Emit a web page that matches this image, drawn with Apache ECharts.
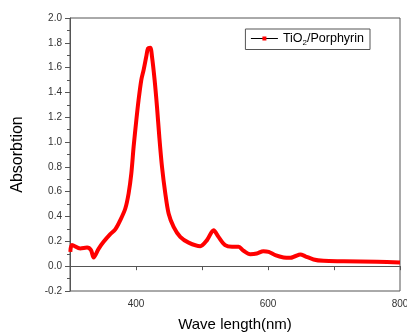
<!DOCTYPE html>
<html><head><meta charset="utf-8">
<script src="https://cdn.jsdelivr.net/npm/echarts@6/dist/echarts.min.js"></script>
<style>html,body{margin:0;padding:0;background:#fff}#c{width:407px;height:333px}</style>
</head><body><div id="c"></div>
<script>
const wavelength = [300.5,303,315.6,325.8,331.8,335.8,343.3,350.9,361,368.6,376.2,383.8,388.8,392.9,396.4,400.5,403.9,408,411.5,415.6,418.2,421.7,424.2,428.2,431.8,435.3,439.4,444.4,449.4,457,467,479.7,497.4,507.6,517.6,525,535,545.5,555.5,563,573,583,593,601,611,623.6,633.8,641,649,656.5,669,684,714.5,765,800];
const absorption = [0.115,0.17,0.143,0.15,0.13,0.07,0.14,0.196,0.258,0.296,0.371,0.465,0.586,0.747,0.962,1.177,1.339,1.5,1.58,1.69,1.755,1.76,1.69,1.5,1.285,1.043,0.80,0.586,0.425,0.317,0.236,0.19,0.161,0.21,0.29,0.236,0.17,0.156,0.156,0.124,0.097,0.102,0.121,0.115,0.089,0.07,0.067,0.08,0.094,0.08,0.054,0.043,0.04,0.035,0.03];
const seriesName = 'TiO2/Porphyrin';
const xTitle = 'Wave length(nm)';
const yTitle = 'Absorbtion';

const chart = echarts.init(document.getElementById('c'));
chart.setOption({
  animation: false,
  textStyle: {fontFamily: 'Liberation Sans, Arial, sans-serif'},
  grid: {left: 70, right: 7, top: 18, bottom: 42, show: true, borderColor: '#555', borderWidth: 1, containLabel: false, outerBoundsMode: 'none'},
  legend: {
    right: 37, top: 29, orient: 'vertical',
    borderColor: '#555', borderWidth: 1, padding: [3, 6, 3, 5],
    itemWidth: 27, itemHeight: 5, itemGap: 0,
    lineStyle: {color: '#000', width: 1},
    itemStyle: {color: '#ff0000'},
    formatter: () => '{a|TiO}{s|2}{a|/Porphyrin}',
    textStyle: {rich: {a: {fontSize: 12.5, color: '#000'}, s: {fontSize: 8, color: '#000', verticalAlign: 'bottom', padding: [8, 0, 0, 0]}}}
  },
  xAxis: {
    type: 'value', min: 300, max: 800, interval: 100,
    name: xTitle, nameLocation: 'middle', nameGap: 26,
    nameTextStyle: {fontSize: 15, color: '#000'},
    axisLine: {lineStyle: {color: '#555'}},
    axisTick: {length: 4, lineStyle: {color: '#555'}},
    axisLabel: {fontSize: 10, color: '#333', formatter: v => (v % 200 === 0 ? String(v) : '')},
    splitLine: {show: false}
  },
  yAxis: {
    type: 'value', min: -0.2, max: 2.0, interval: 0.2,
    name: yTitle, nameLocation: 'middle', nameGap: 44,
    nameTextStyle: {fontSize: 16, color: '#000'},
    axisLine: {show: true, lineStyle: {color: '#555'}},
    axisTick: {show: true, length: 5, lineStyle: {color: '#555'}},
    minorTick: {show: true, splitNumber: 2, length: 3, lineStyle: {color: '#555'}},
    axisLabel: {fontSize: 10, color: '#333', formatter: v => v.toFixed(1)},
    splitLine: {show: false}
  },
  series: [{
    name: seriesName, type: 'line', smooth: 0.3,
    data: wavelength.map((w, i) => [w, absorption[i]]),
    symbol: 'rect', symbolSize: 5, showSymbol: false,
    lineStyle: {color: '#ff0000', width: 4},
    itemStyle: {color: '#ff0000'}
  }]
});
</script></body></html>
